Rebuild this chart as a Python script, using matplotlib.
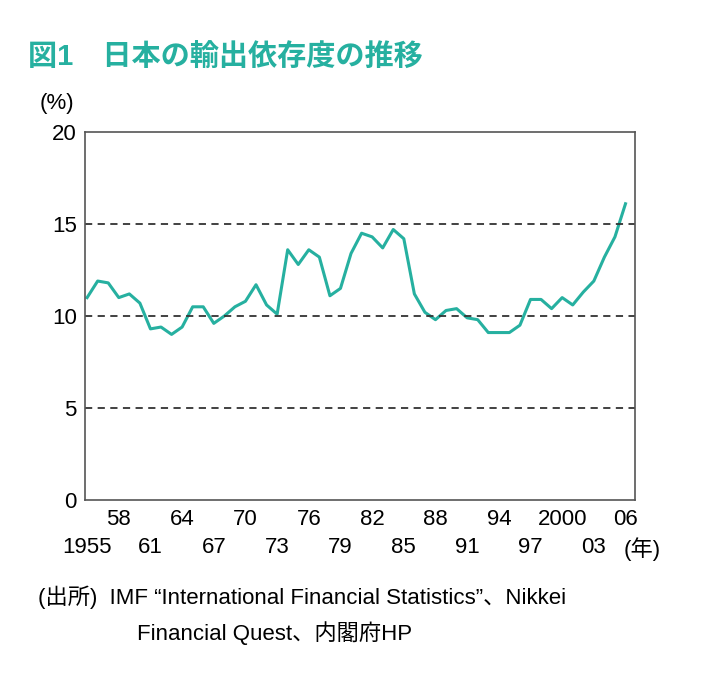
import matplotlib
matplotlib.use("Agg")
import matplotlib.pyplot as plt

plt.rcParams['font.family'] = ['Liberation Sans', 'Noto Sans CJK JP', 'DejaVu Sans']

#data
years = list(range(1955, 2007))
ratio = [11.0, 11.9, 11.8, 11.0, 11.2, 10.7, 9.3, 9.4, 9.0, 9.4,
         10.5, 10.5, 9.6, 10.0, 10.5, 10.8, 11.7, 10.6, 10.1, 13.6,
         12.8, 13.6, 13.2, 11.1, 11.5, 13.4, 14.5, 14.3, 13.7, 14.7,
         14.2, 11.2, 10.2, 9.8, 10.3, 10.4, 9.9, 9.8, 9.1, 9.1,
         9.1, 9.5, 10.9, 10.9, 10.4, 11.0, 10.6, 11.3, 11.9, 13.2,
         14.3, 16.1]
upper_years = [1958, 1964, 1970, 1976, 1982, 1988, 1994, 2000, 2006]
upper_labels = ["58", "64", "70", "76", "82", "88", "94", "2000", "06"]
lower_years = [1955, 1961, 1967, 1973, 1979, 1985, 1991, 1997, 2003]
lower_labels = ["1955", "61", "67", "73", "79", "85", "91", "97", "03"]

teal = "#26b0a0"

fig = plt.figure(figsize=(7.16, 6.96), dpi=100)
ax = fig.add_axes([85/716, 1-500/696, 550/716, 368/696])
ax.plot(years, ratio, color=teal, linewidth=2.2)
ax.set_xlim(1954.8, 2006.9)
ax.set_ylim(0, 20)
ax.set_yticks([0, 5, 10, 15, 20])
ax.tick_params(axis='y', labelsize=16, length=0, pad=6)
for y in [5, 10, 15]:
    ax.axhline(y, color="#333333", linestyle=(0, (4, 3)), linewidth=1.3)
ax.set_xticks([])
for s in ax.spines.values():
    s.set_color("#555555")
    s.set_linewidth(1.2)

trans = ax.get_xaxis_transform()
for yr, lab in zip(upper_years, upper_labels):
    ax.text(yr, -0.025, lab, transform=trans, ha='center', va='top', fontsize=16)
for yr, lab in zip(lower_years, lower_labels):
    ax.text(yr, -0.1, lab, transform=trans, ha='center', va='top', fontsize=16)
ax.text(2007.6, -0.1, "(年)", transform=trans, ha='center', va='top', fontsize=16)

fig.text(40/716, 1-103/696, "(%)", fontsize=16, va='center')
fig.text(28/716, 1-57/696, "図1　日本の輸出依存度の推移", fontsize=21,
         fontweight='bold', color=teal, va='center')
fig.text(38/716, 1-597/696, "(出所)  IMF \u201cInternational Financial Statistics\u201d、Nikkei",
         fontsize=16, va='center')
fig.text(137/716, 1-633/696, "Financial Quest、内閣府HP", fontsize=16, va='center')

fig.savefig("out.png", dpi=100)
